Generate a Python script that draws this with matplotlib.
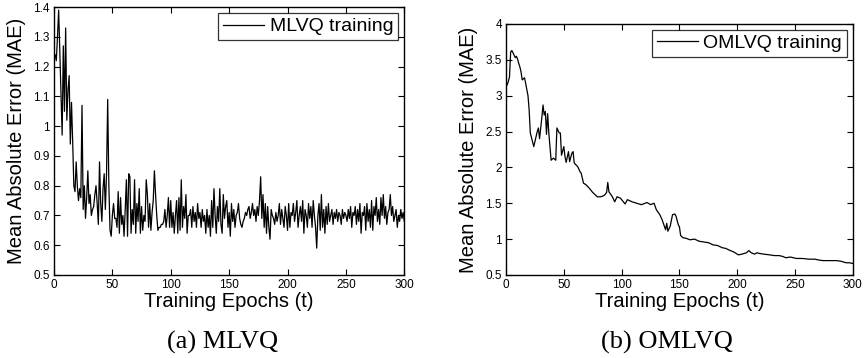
import matplotlib
matplotlib.use('Agg')
import matplotlib.pyplot as plt
import numpy as np

# MLVQ training MAE, one value per epoch (1..300)
mlvq_mae = [
    1.24, 1.22, 1.30, 1.39, 1.25, 1.10, 0.97, 1.27, 1.05, 1.33,
    1.02, 1.12, 1.17, 0.94, 1.08, 0.95, 0.80, 0.78, 0.88, 0.80,
    0.75, 0.79, 0.76, 1.07, 0.72, 0.80, 0.69, 0.76, 0.85, 0.74,
    0.77, 0.70, 0.72, 0.73, 0.77, 0.80, 0.74, 0.67, 0.88, 0.74,
    0.68, 0.79, 0.84, 0.72, 0.84, 1.09, 0.80, 0.65, 0.63, 0.70,
    0.74, 0.69, 0.69, 0.66, 0.78, 0.64, 0.76, 0.67, 0.70, 0.63,
    0.72, 0.82, 0.63, 0.84, 0.83, 0.64, 0.72, 0.67, 0.82, 0.64,
    0.74, 0.68, 0.79, 0.64, 0.73, 0.65, 0.70, 0.68, 0.82, 0.77,
    0.66, 0.74, 0.65, 0.71, 0.75, 0.85, 0.77, 0.70, 0.65, 0.66,
    0.66, 0.67, 0.67, 0.68, 0.72, 0.66, 0.70, 0.76, 0.66, 0.75,
    0.66, 0.71, 0.64, 0.70, 0.75, 0.64, 0.76, 0.65, 0.82, 0.66,
    0.73, 0.69, 0.77, 0.64, 0.70, 0.70, 0.72, 0.66, 0.73, 0.68,
    0.71, 0.66, 0.74, 0.69, 0.71, 0.66, 0.72, 0.68, 0.70, 0.64,
    0.72, 0.66, 0.70, 0.63, 0.75, 0.66, 0.79, 0.70, 0.64, 0.73,
    0.68, 0.79, 0.67, 0.64, 0.77, 0.69, 0.73, 0.75, 0.66, 0.71,
    0.63, 0.74, 0.68, 0.72, 0.66, 0.70, 0.71, 0.74, 0.69, 0.67,
    0.66, 0.68, 0.69, 0.71, 0.70, 0.72, 0.73, 0.69, 0.71, 0.74,
    0.70, 0.72, 0.68, 0.73, 0.70, 0.75, 0.83, 0.69, 0.77, 0.66,
    0.74, 0.64, 0.73, 0.66, 0.62, 0.72, 0.70, 0.69, 0.67, 0.71,
    0.68, 0.70, 0.74, 0.67, 0.72, 0.69, 0.66, 0.73, 0.70, 0.65,
    0.74, 0.66, 0.71, 0.70, 0.74, 0.68, 0.71, 0.75, 0.66, 0.70,
    0.73, 0.68, 0.75, 0.64, 0.72, 0.70, 0.66, 0.74, 0.69, 0.73,
    0.66, 0.75, 0.70, 0.66, 0.59, 0.70, 0.74, 0.65, 0.77, 0.66,
    0.72, 0.64, 0.73, 0.67, 0.74, 0.68, 0.70, 0.72, 0.67, 0.71,
    0.69, 0.72, 0.68, 0.71, 0.70, 0.67, 0.72, 0.69, 0.71, 0.70,
    0.68, 0.72, 0.69, 0.73, 0.66, 0.71, 0.70, 0.73, 0.67, 0.72,
    0.68, 0.74, 0.64, 0.71, 0.70, 0.73, 0.65, 0.74, 0.68, 0.72,
    0.66, 0.75, 0.65, 0.73, 0.70, 0.76, 0.68, 0.72, 0.67, 0.76,
    0.70, 0.77, 0.69, 0.73, 0.67, 0.71, 0.72, 0.77, 0.70, 0.73,
    0.68, 0.70, 0.72, 0.66, 0.70, 0.68, 0.72, 0.69, 0.71, 0.68,
]

# OMLVQ training MAE, read at these epochs
omlvq_epochs = [
    1, 2, 3, 4, 5, 6, 8, 9, 10, 11, 12, 13, 14, 16, 17, 19, 20, 21, 24, 27,
    28, 29, 31, 32, 33, 34, 35, 36, 37, 39, 41, 43, 44, 46, 47, 48, 50, 51, 52, 54,
    55, 57, 58, 59, 62, 64, 65, 67, 69, 72, 75, 79, 82, 85, 87, 88, 89, 92, 94, 96,
    99, 103, 105, 109, 113, 117, 122, 125, 128, 130, 133, 135, 138, 139, 140, 142, 144, 146, 147, 149,
    150, 151, 153, 156, 159, 163, 167, 171, 175, 179, 183, 187, 190, 194, 197, 201, 204, 206, 208, 210,
    212, 215, 217, 219, 223, 228, 232, 236, 239, 242, 246, 251, 256, 262, 267, 270, 274, 280, 286, 290,
    294, 297, 300,
]
omlvq_mae = [
    3.15, 3.20, 3.26, 3.61, 3.63, 3.60, 3.53, 3.55, 3.51, 3.45, 3.40, 3.33, 3.22, 3.25, 3.17, 3.00, 2.80, 2.48, 2.29, 2.50,
    2.55, 2.40, 2.70, 2.87, 2.73, 2.78, 2.46, 2.75, 2.48, 2.10, 2.13, 2.10, 2.55, 2.48, 2.48, 2.17, 2.29, 2.15, 2.07, 2.22,
    2.08, 2.20, 2.22, 2.06, 2.01, 1.94, 1.92, 1.78, 1.76, 1.71, 1.65, 1.59, 1.59, 1.61, 1.65, 1.79, 1.66, 1.59, 1.52, 1.59,
    1.57, 1.49, 1.55, 1.52, 1.50, 1.48, 1.51, 1.48, 1.50, 1.41, 1.34, 1.27, 1.13, 1.22, 1.11, 1.18, 1.34, 1.35, 1.32, 1.20,
    1.17, 1.05, 1.02, 1.01, 0.99, 1.00, 0.97, 0.96, 0.95, 0.92, 0.91, 0.88, 0.87, 0.84, 0.82, 0.78, 0.79, 0.80, 0.81, 0.84,
    0.81, 0.79, 0.81, 0.80, 0.79, 0.78, 0.77, 0.77, 0.76, 0.74, 0.75, 0.73, 0.73, 0.72, 0.72, 0.71, 0.70, 0.70, 0.70, 0.69,
    0.67, 0.67, 0.66,
]

mlvq_epochs = np.arange(1, len(mlvq_mae) + 1)

plt.rcParams['font.family'] = ['Liberation Sans', 'DejaVu Sans']
plt.rcParams['xtick.direction'] = 'in'
plt.rcParams['ytick.direction'] = 'in'
plt.rcParams['xtick.top'] = True
plt.rcParams['ytick.right'] = True

fig = plt.figure(figsize=(8.65, 3.58), dpi=100)
ax1 = fig.add_axes([0.0624, 0.232, 0.405, 0.748])
ax2 = fig.add_axes([0.585, 0.232, 0.401, 0.701])


def style(ax, ylim, yticks):
    ax.set_xlim(0, 300)
    ax.set_ylim(*ylim)
    ax.set_xticks(np.arange(0, 301, 50))
    ax.set_yticks(yticks)
    ax.set_yticklabels(['%g' % v for v in yticks])
    ax.tick_params(labelsize=8.5, length=4, width=0.8, pad=3)
    for s in ax.spines.values():
        s.set_linewidth(1.0)
    ax.set_xlabel('Training Epochs (t)', fontsize=14.5, labelpad=1)
    ax.set_ylabel('Mean Absolute Error (MAE)', fontsize=14.5, labelpad=5)
    leg = ax.legend(loc='upper right', fontsize=14, frameon=True, fancybox=False,
                    handlelength=2.1, handletextpad=0.3, borderpad=0.25,
                    borderaxespad=0.3)
    leg.get_frame().set_edgecolor('black')
    leg.get_frame().set_linewidth(0.9)


ax1.plot(mlvq_epochs, mlvq_mae, color='black', lw=0.9, label='MLVQ training')
style(ax1, (0.5, 1.4), np.round(np.arange(0.5, 1.41, 0.1), 1))

ax2.plot(omlvq_epochs, omlvq_mae, color='black', lw=0.9, label='OMLVQ training')
style(ax2, (0.5, 4.0), np.arange(0.5, 4.01, 0.5))

fig.text(0.257, 0.027, '(a) MLVQ', ha='center', va='baseline', fontsize=19,
         family=['Liberation Serif', 'DejaVu Serif'])
fig.text(0.771, 0.027, '(b) OMLVQ', ha='center', va='baseline', fontsize=19,
         family=['Liberation Serif', 'DejaVu Serif'])

fig.savefig('out.png', dpi=100)
